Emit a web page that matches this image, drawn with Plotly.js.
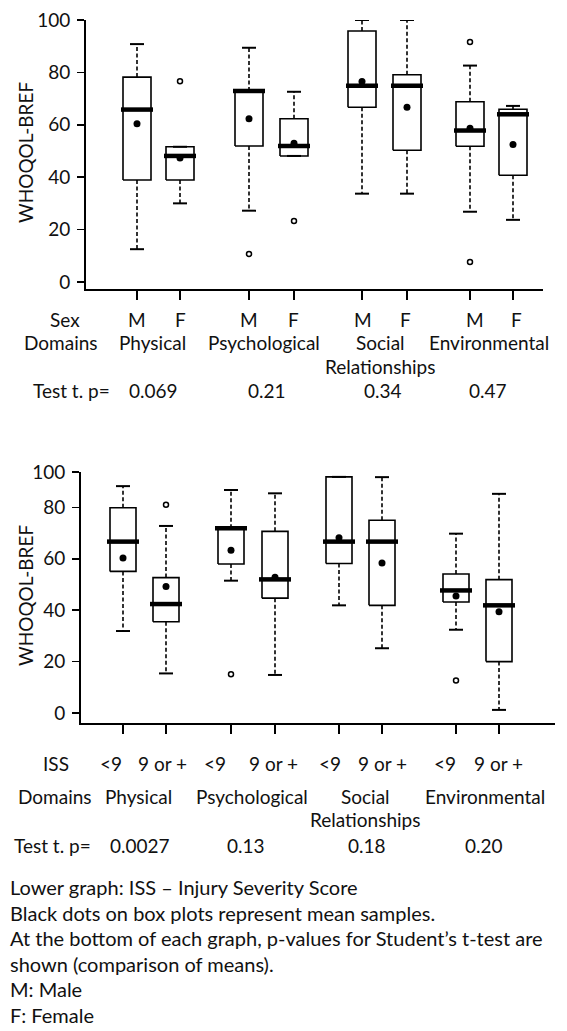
<!DOCTYPE html>
<html>
<head>
<meta charset="utf-8">
<script src="https://cdn.plot.ly/plotly-3.0.1.min.js"></script>
<style>html,body{margin:0;padding:0;background:#fff;}#chart{width:567px;height:1031px;}</style>
</head>
<body>
<div id="chart"></div>
<script>
// ---------- DATA ----------
const domainLines = [["Physical"], ["Psychological"], ["Social", "Relationships"], ["Environmental"]];

// Upper graph: by sex (order: Physical M,F, Psychological M,F, Social M,F, Environmental M,F)
const sexLabels = ["M", "F", "M", "F", "M", "F", "M", "F"];
const sexLowerWhisker = [12.5, 30.0, 27.2, 48.1, 33.7, 33.7, 26.8, 23.7];
const sexQ1 = [38.9, 38.9, 51.9, 48.1, 66.7, 50.3, 51.8, 40.7];
const sexMedian = [65.8, 48.1, 72.9, 51.9, 74.9, 74.9, 57.8, 64.0];
const sexQ3 = [78.2, 51.6, 72.9, 62.3, 95.8, 79.1, 68.8, 65.9];
const sexUpperWhisker = [90.8, 51.6, 89.4, 72.6, 100, 100, 82.6, 67.2];
const sexMean = [60.4, 47.3, 62.3, 52.9, 76.5, 66.7, 58.7, 52.5];
const sexOutliers = [[], [76.6], [10.7], [23.3], [], [], [91.6, 7.6], []];
const sexPValues = ["0.069", "0.21", "0.34", "0.47"];

// Lower graph: by ISS
const issLabels = ["<9", "9 or +", "<9", "9 or +", "<9", "9 or +", "<9", "9 or +"];
const issLowerWhisker = [31.9, 15.4, 51.5, 14.8, 41.9, 25.2, 32.4, 1.2];
const issQ1 = [55.1, 35.5, 58.0, 44.7, 58.2, 41.9, 43.2, 20.0];
const issMedian = [66.7, 42.4, 71.9, 52.0, 66.7, 66.7, 47.7, 41.9];
const issQ3 = [79.9, 52.7, 71.9, 70.7, 91.9, 75.0, 54.1, 51.9];
const issUpperWhisker = [88.3, 72.8, 86.8, 85.5, 91.9, 91.8, 69.8, 85.3];
const issMean = [60.3, 49.2, 63.3, 52.8, 68.2, 58.4, 45.5, 39.4];
const issOutliers = [[], [81.1], [15.1], [], [], [], [12.6], []];
const issPValues = ["0.0027", "0.13", "0.18", "0.20"];

const yTickVals = [0, 20, 40, 60, 80, 100];
const yTickText = ["0", "20", "40", "60", "80", "100"];
const yTitle = "WHOQOL-BREF";
const notes = [
  "Lower graph: ISS \u2013 Injury Severity Score",
  "Black dots on box plots represent mean samples.",
  "At the bottom of each graph, p-values for Student\u2019s t-test are",
  "shown (comparison of means).",
  "M: Male",
  "F: Female"
];

// ---------- LAYOUT CONSTANTS (pixels) ----------
const W = 567, H = 1031;
const FONT = "Lato, 'Open Sans', sans-serif";
const FS = 19;
const cfgTop = {
  xa: "x", ya: "y", xrange: [86, 543], pos: [137, 180, 249, 294, 362, 407, 470, 513],
  ytop: 20, ybot: 289, yrange: [-2.7, 100], bw: 14, mw: 16, cw: 7,
  tickVals: yTickVals
};
const cfgBot = {
  xa: "x2", ya: "y2", xrange: [81, 555], pos: [123, 166, 231, 275, 339, 382, 456, 499],
  ytop: 472, ybot: 723, yrange: [-3.9, 93.8], bw: 13, mw: 16, cw: 7,
  tickVals: [0, 20, 40, 60, 80, 93.8]
};

function buildTraces(cfg, lw, q1, med, q3, uw, mean, outl) {
  const wx = [], wy = [], cx = [], cy = [], bx = [], by = [], mx = [], my = [];
  const ox = [], oy = [], ex = [], ey = [];
  cfg.pos.forEach((p, i) => {
    wx.push(p, p, null, p, p, null);
    wy.push(q3[i], uw[i], null, q1[i], lw[i], null);
    cx.push(p - cfg.cw, p + cfg.cw, null, p - cfg.cw, p + cfg.cw, null);
    cy.push(uw[i], uw[i], null, lw[i], lw[i], null);
    bx.push(p - cfg.bw, p + cfg.bw, p + cfg.bw, p - cfg.bw, p - cfg.bw, null);
    by.push(q1[i], q1[i], q3[i], q3[i], q1[i], null);
    mx.push(p - cfg.mw, p + cfg.mw, null);
    my.push(med[i], med[i], null);
    ex.push(p); ey.push(mean[i]);
    outl[i].forEach(v => { ox.push(p); oy.push(v); });
  });
  const base = { xaxis: cfg.xa, yaxis: cfg.ya, type: "scatter", hoverinfo: "skip", showlegend: false };
  return [
    Object.assign({}, base, { x: wx, y: wy, mode: "lines", line: { color: "#000", width: 1.6, dash: "4px,2.5px" } }),
    Object.assign({}, base, { x: cx, y: cy, mode: "lines", line: { color: "#000", width: 2 } }),
    Object.assign({}, base, { x: bx, y: by, mode: "lines", line: { color: "#000", width: 1.6 } }),
    Object.assign({}, base, { x: mx, y: my, mode: "lines", line: { color: "#000", width: 4.5 } }),
    Object.assign({}, base, { x: ex, y: ey, mode: "markers", cliponaxis: false, marker: { color: "#000", size: 7, symbol: "circle" } }),
    Object.assign({}, base, { x: ox, y: oy, mode: "markers", cliponaxis: false, marker: { color: "#000", size: 5, symbol: "circle-open", line: { width: 1.5, color: "#000" } } })
  ];
}

const traces = []
  .concat(buildTraces(cfgTop, sexLowerWhisker, sexQ1, sexMedian, sexQ3, sexUpperWhisker, sexMean, sexOutliers))
  .concat(buildTraces(cfgBot, issLowerWhisker, issQ1, issMedian, issQ3, issUpperWhisker, issMean, issOutliers));

function xAxis(cfg, anchor) {
  return {
    domain: [cfg.xrange[0] / W, cfg.xrange[1] / W], range: cfg.xrange, anchor: anchor,
    showline: true, linewidth: 2, linecolor: "#000", showgrid: false, zeroline: false,
    tickmode: "array", tickvals: cfg.pos, showticklabels: false,
    ticks: "outside", ticklen: 9, tickwidth: 1.5, tickcolor: "#000", fixedrange: true
  };
}
function yAxis(cfg, anchor) {
  return {
    domain: [1 - cfg.ybot / H, 1 - cfg.ytop / H], range: cfg.yrange, anchor: anchor,
    showline: true, linewidth: 2, linecolor: "#000", showgrid: false, zeroline: false,
    tickmode: "array", tickvals: cfg.tickVals, ticktext: yTickText,
    ticks: "outside", ticklen: 7, tickwidth: 1.5, tickcolor: "#000",
    tickfont: { family: FONT, size: FS, color: "#111" }, ticklabelstandoff: 3, fixedrange: true
  };
}

function ann(text, xpx, ypx, extra) {
  return Object.assign({
    xref: "paper", yref: "paper", x: xpx / W, y: 1 - ypx / H,
    xanchor: "center", yanchor: "middle", showarrow: false, text: text, borderpad: 0,
    font: { family: FONT, size: FS, color: "#111" }
  }, extra || {});
}

const annotations = [];
// y titles
annotations.push(ann(yTitle, 25, 153, { textangle: -90 }));
annotations.push(ann(yTitle, 25, 596, { textangle: -90 }));

// Upper graph text rows
annotations.push(ann("Sex", 65, 319));
const sexLabelX = [137, 180, 249, 293, 363, 405, 475, 516];
sexLabels.forEach((t, i) => annotations.push(ann(t, sexLabelX[i], 319)));
annotations.push(ann("Domains", 61, 343));
const topDomX = [152, 264, 380, 489];
domainLines.forEach((lines, i) => lines.forEach((t, j) => annotations.push(ann(t, topDomX[i], 343 + 23 * j))));
annotations.push(ann("Test t. p=", 71, 390));
const topPX = [153, 267, 383, 488];
sexPValues.forEach((t, i) => annotations.push(ann(t, topPX[i], 390)));

// Lower graph text rows
annotations.push(ann("ISS", 56, 763));
const issLabelX = [111, 162, 215, 273, 330, 382, 445, 498];
issLabels.forEach((t, i) => annotations.push(ann(t.replace("<", "&lt;"), issLabelX[i], 763)));
annotations.push(ann("Domains", 55, 796));
const botDomX = [138, 252, 365, 485];
domainLines.forEach((lines, i) => lines.forEach((t, j) => annotations.push(ann(t, botDomX[i], 796 + 23 * j))));
annotations.push(ann("Test t. p=", 52, 845));
const botPX = [140, 246, 367, 484];
issPValues.forEach((t, i) => annotations.push(ann(t, botPX[i], 845)));

// notes
notes.forEach((t, i) => annotations.push(ann(t, 9, 887 + 25.6 * i, { xanchor: "left", align: "left", font: { family: FONT, size: 20, color: "#111" } })));

const layout = {
  width: W, height: H, margin: { l: 0, r: 0, t: 0, b: 0 },
  paper_bgcolor: "#fff", plot_bgcolor: "rgba(0,0,0,0)",
  showlegend: false, font: { family: FONT, size: FS, color: "#111" },
  xaxis: xAxis(cfgTop, "y"), yaxis: yAxis(cfgTop, "x"),
  xaxis2: xAxis(cfgBot, "y2"), yaxis2: yAxis(cfgBot, "x2"),
  annotations: annotations
};

Plotly.newPlot("chart", traces, layout, { staticPlot: true, displayModeBar: false });
</script>
</body>
</html>
